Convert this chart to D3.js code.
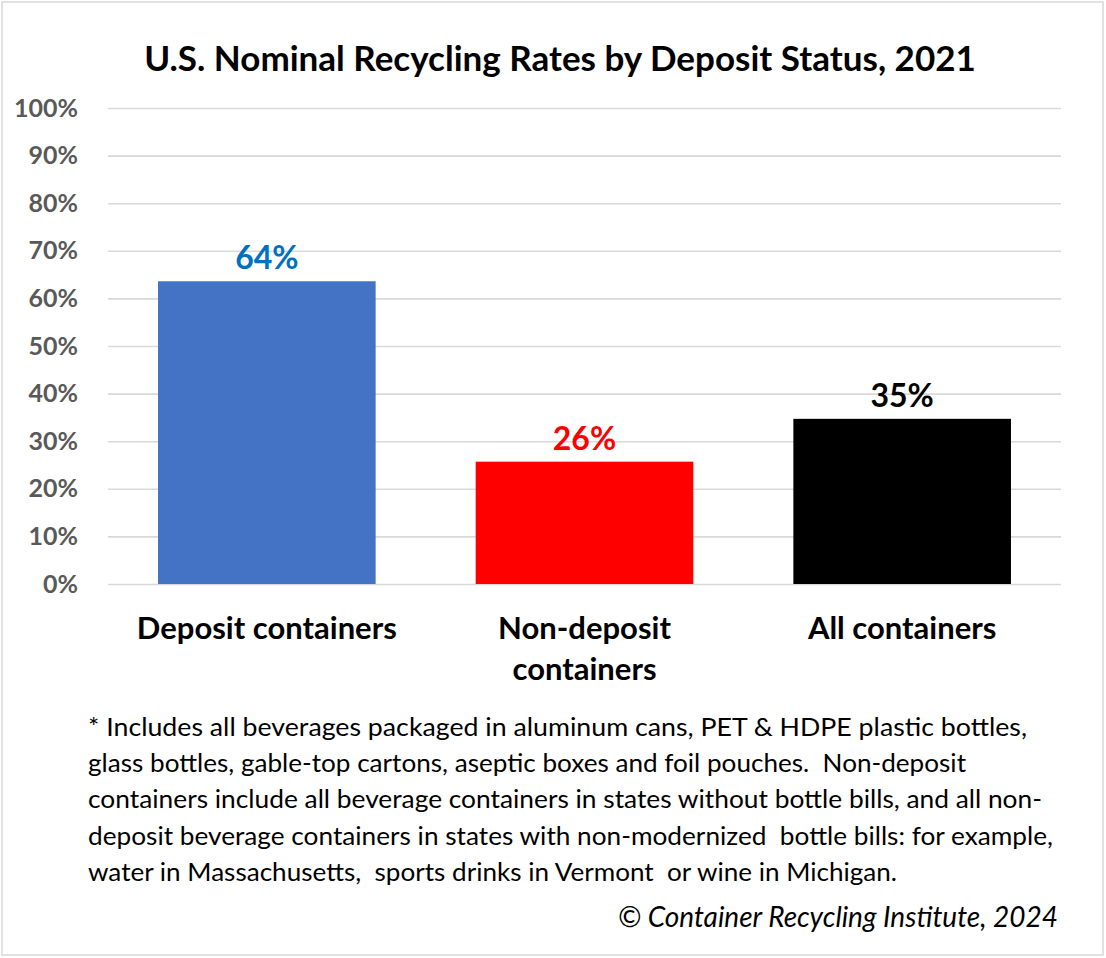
<!DOCTYPE html>
<html>
<head>
<meta charset="utf-8">
<script src="https://cdn.jsdelivr.net/npm/d3@7"></script>
<style>
  html, body { margin: 0; padding: 0; background: #fff; }
  svg { display: block; font-family: Lato, "Open Sans", sans-serif; }
</style>
</head>
<body>
<div id="chart"></div>
<script>
// chart data
var categories = ["Deposit containers", "Non-deposit containers", "All containers"];
var categoryLines = [["Deposit containers"], ["Non-deposit", "containers"], ["All containers"]];
var rates = [0.636, 0.257, 0.347];
var rateLabels = ["64%", "26%", "35%"];
var barColors = ["#4472c4", "#ff0000", "#000000"];
var labelColors = ["#0070c0", "#ff0000", "#000000"];
var yTicks = [0, 0.1, 0.2, 0.3, 0.4, 0.5, 0.6, 0.7, 0.8, 0.9, 1];
var title = "U.S. Nominal Recycling Rates by Deposit Status, 2021";
var footnote = [
	"* Includes all beverages packaged in aluminum cans, PET & HDPE plastic bottles,",
	"glass bottles, gable-top cartons, aseptic boxes and foil pouches.  Non-deposit",
	"containers include all beverage containers in states without bottle bills, and all non-",
	"deposit beverage containers in states with non-modernized  bottle bills: for example,",
	"water in Massachusetts,  sports drinks in Vermont  or wine in Michigan."
];
var footnoteWidths = [939, 878, 954, 965, 809];
var credit = "\u00a9 Container Recycling Institute, 2024";

var width = 1106, height = 958;
var plot = {left: 108, right: 1061, top: 108, bottom: 584};

var svg = d3.select("#chart")
	.append("svg")
	.attr("width", width)
	.attr("height", height);

// outer frame
svg.append("rect")
	.attr("x", 2).attr("y", 2)
	.attr("width", 1101).attr("height", 953)
	.attr("fill", "#fff")
	.attr("stroke", "#d9d9d9")
	.attr("stroke-width", 1.5);

svg.append("text")
	.attr("x", 560)
	.attr("y", 71)
	.attr("text-anchor", "middle")
	.style("font-size", "35px")
	.style("font-weight", "bold")
	.attr("fill", "#000")
	.text(title);

var xScale = d3.scaleBand()
	.domain(categories)
	.range([plot.left, plot.right])
	.paddingInner(0.315)
	.paddingOuter(0.1575);

var yScale = d3.scaleLinear()
	.domain([0, 1])
	.range([plot.bottom, plot.top]);

// gridlines
var grid = d3.axisRight(yScale)
	.tickValues(yTicks)
	.tickSize(plot.right - plot.left)
	.tickFormat("");

svg.append("g")
	.attr("class", "grid")
	.attr("transform", "translate(" + plot.left + ",0)")
	.call(grid)
	.call(function(g){
		g.select(".domain").remove();
		g.selectAll("line").attr("stroke", "#d9d9d9").attr("stroke-width", 1.6);
	});

var yAxis = d3.axisLeft(yScale)
	.tickValues(yTicks)
	.tickSize(0)
	.tickPadding(0)
	.tickFormat(d3.format(".0%"));

svg.append("g")
	.attr("class", "y-axis")
	.attr("transform", "translate(78,0)")
	.call(yAxis)
	.call(function(g){
		g.select(".domain").remove();
		g.selectAll("text")
			.attr("fill", "#595959")
			.style("font-size", "25px")
			.style("font-weight", "bold")
			.style("font-family", "Lato, sans-serif");
	});

var barG = svg.append("g").attr("class", "bars");

barG.selectAll("rect")
	.data(rates)
	.enter()
	.append("rect")
	.attr("x", function(d, i){ return xScale(categories[i]); })
	.attr("y", function(d){ return yScale(d); })
	.attr("width", xScale.bandwidth())
	.attr("height", function(d){ return yScale(0) - yScale(d); })
	.attr("fill", function(d, i){ return barColors[i]; });

barG.selectAll(".value")
	.data(rates)
	.enter()
	.append("text")
	.attr("class", "value")
	.attr("x", function(d, i){ return xScale(categories[i]) + xScale.bandwidth() / 2; })
	.attr("y", function(d){ return yScale(d) - 12; })
	.attr("text-anchor", "middle")
	.style("font-size", "32px")
	.style("font-weight", "bold")
	.attr("fill", function(d, i){ return labelColors[i]; })
	.text(function(d, i){ return rateLabels[i]; });

// category labels
var catG = svg.append("g").attr("class", "categories");
categoryLines.forEach(function(lines, i){
	var t = catG.append("text")
		.attr("x", xScale(categories[i]) + xScale.bandwidth() / 2)
		.attr("y", 639)
		.attr("text-anchor", "middle")
		.style("font-size", "31px")
		.style("font-weight", "bold")
		.attr("fill", "#000");
	lines.forEach(function(line, j){
		t.append("tspan")
			.attr("x", xScale(categories[i]) + xScale.bandwidth() / 2)
			.attr("dy", j === 0 ? 0 : 41)
			.text(line);
	});
});

// footnote
svg.append("g")
	.attr("class", "footnote")
	.selectAll("text")
	.data(footnote)
	.enter()
	.append("text")
	.attr("x", 88)
	.attr("y", function(d, i){ return 736 + i * 36.2; })
	.attr("textLength", function(d, i){ return footnoteWidths[i]; })
	.attr("lengthAdjust", "spacingAndGlyphs")
	.style("font-size", "25px")
	.style("white-space", "pre")
	.attr("fill", "#000")
	.text(function(d){ return d; });

svg.append("text")
	.attr("x", 1058)
	.attr("y", 927)
	.attr("text-anchor", "end")
	.style("font-size", "28px")
	.style("font-style", "italic")
	.attr("fill", "#000")
	.text(credit);
</script>
</body>
</html>
